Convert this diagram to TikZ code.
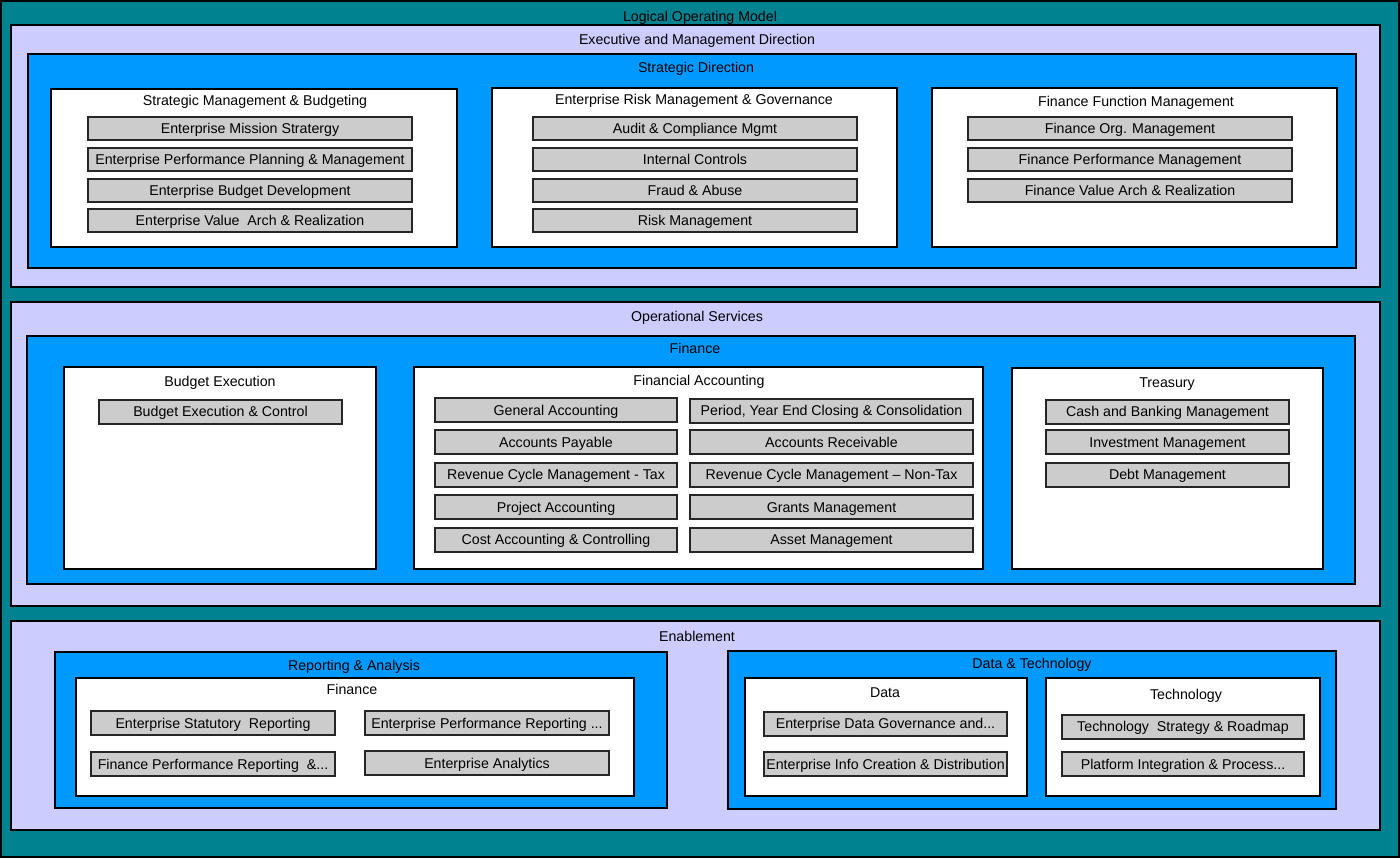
\documentclass[tikz,border=0pt]{standalone}
\usepackage{fontspec}
\setmainfont{Liberation Sans}
\definecolor{modelteal}{RGB}{0,130,144}
\definecolor{layerlav}{RGB}{204,204,255}
\definecolor{domainblue}{RGB}{0,153,255}
\definecolor{fngrey}{RGB}{204,204,204}
\tikzset{
  modelbox/.style={draw=black, line width=1.5pt, fill=modelteal, inner sep=0pt},
  layerbox/.style={draw=black, line width=1.5pt, fill=layerlav, inner sep=0pt},
  domainbox/.style={draw=black, line width=1.5pt, fill=domainblue, inner sep=0pt},
  areabox/.style={draw=black, line width=1.5pt, fill=white, inner sep=0pt},
  fnbox/.style={draw=black!85, line width=2pt, fill=fngrey, inner sep=0pt, minimum height=23, text height=10pt, text depth=0pt},
  ttl/.style={inner sep=0pt, text height=10pt, text depth=0pt},
  every node/.append style={font=\fontsize{14.2}{16}\selectfont}
}
\begin{document}
\begin{tikzpicture}[x=1pt,y=-1pt]
\useasboundingbox (0,0) rectangle (1400,858);

\node[modelbox, minimum width=1398, minimum height=856] (lom) at (700,429) {};
\node[ttl] at (700,17) {Logical Operating Model};

% Executive and Management Direction
\node[layerbox, minimum width=1369, minimum height=262] (emd) at (695.5,156) {};
\node[ttl] at (697,39.5) {Executive and Management Direction};
\node[domainbox, minimum width=1328, minimum height=214] (sd) at (692,161) {};
\node[ttl] at (696,68) {Strategic Direction};

\node[areabox, minimum width=406, minimum height=158] (smb) at (254,168) {};
\node[ttl] at (255,100.5) {Strategic Management \& Budgeting};
\node[fnbox, minimum width=324] (smb1) at (250,128.5) {Enterprise Mission Stratergy};
\node[fnbox, minimum width=324] (smb2) at (250,159.5) {Enterprise Performance Planning \& Management};
\node[fnbox, minimum width=324] (smb3) at (250,190.5) {Enterprise Budget Development};
\node[fnbox, minimum width=324] (smb4) at (250,221) {Enterprise Value\ \ Arch \& Realization};

\node[areabox, minimum width=405, minimum height=159] (ermg) at (694.5,167.5) {};
\node[ttl] at (694,100) {Enterprise Risk Management \& Governance};
\node[fnbox, minimum width=324] (ermg1) at (695,128.5) {Audit \& Compliance Mgmt};
\node[fnbox, minimum width=324] (ermg2) at (695,159.5) {Internal Controls};
\node[fnbox, minimum width=324] (ermg3) at (695,190.5) {Fraud \& Abuse};
\node[fnbox, minimum width=324] (ermg4) at (695,221) {Risk Management};

\node[areabox, minimum width=405, minimum height=159] (ffm) at (1134.5,167.5) {};
\node[ttl] at (1136,102) {Finance Function Management};
\node[fnbox, minimum width=324] (ffm1) at (1130,128.5) {Finance Org. Management};
\node[fnbox, minimum width=324] (ffm2) at (1130,159.5) {Finance Performance Management};
\node[fnbox, minimum width=324] (ffm3) at (1130,190.5) {Finance Value Arch \& Realization};

% Operational Services
\node[layerbox, minimum width=1369, minimum height=304] (ops) at (695.5,454) {};
\node[ttl] at (697,317) {Operational Services};
\node[domainbox, minimum width=1328, minimum height=248] (fin) at (691,460) {};
\node[ttl] at (695,348.5) {Finance};

\node[areabox, minimum width=312, minimum height=202] (be) at (220,468) {};
\node[ttl] at (220,382) {Budget Execution};
\node[fnbox, minimum width=243, minimum height=24] (be1) at (220.5,412) {Budget Execution \& Control};

\node[areabox, minimum width=569, minimum height=202] (fa) at (698.5,468) {};
\node[ttl] at (699,381) {Financial Accounting};
\node[fnbox, minimum width=242, minimum height=24] (fa1) at (556,410) {General Accounting};
\node[fnbox, minimum width=242, minimum height=24] (fa2) at (556,442) {Accounts Payable};
\node[fnbox, minimum width=242, minimum height=24] (fa3) at (556,474.5) {Revenue Cycle Management - Tax};
\node[fnbox, minimum width=242, minimum height=24] (fa4) at (556,507) {Project Accounting};
\node[fnbox, minimum width=242, minimum height=24] (fa5) at (556,539.5) {Cost Accounting \& Controlling};
\node[fnbox, minimum width=283, minimum height=24] (fa6) at (831.5,410.5) {Period, Year End Closing \& Consolidation};
\node[fnbox, minimum width=283, minimum height=24] (fa7) at (831.5,442) {Accounts Receivable};
\node[fnbox, minimum width=283, minimum height=24] (fa8) at (831.5,474.5) {Revenue Cycle Management – Non-Tax};
\node[fnbox, minimum width=283, minimum height=24] (fa9) at (831.5,507) {Grants Management};
\node[fnbox, minimum width=283, minimum height=24] (fa10) at (831.5,539.5) {Asset Management};

\node[areabox, minimum width=311, minimum height=201] (tre) at (1167.5,468.5) {};
\node[ttl] at (1167,383) {Treasury};
\node[fnbox, minimum width=243, minimum height=24] (tre1) at (1167.5,412) {Cash and Banking Management};
\node[fnbox, minimum width=243, minimum height=24] (tre2) at (1167.5,442) {Investment Management};
\node[fnbox, minimum width=243, minimum height=24] (tre3) at (1167.5,474.5) {Debt Management};

% Enablement
\node[layerbox, minimum width=1369, minimum height=209] (enb) at (695.5,725.5) {};
\node[ttl] at (697,636) {Enablement};

\node[domainbox, minimum width=612, minimum height=156] (ra) at (361,730) {};
\node[ttl] at (354,665) {Reporting \& Analysis};
\node[areabox, minimum width=558, minimum height=118] (raf) at (355,737) {};
\node[ttl] at (352,689) {Finance};
\node[fnbox, minimum width=244, minimum height=24] (raf1) at (213,723) {Enterprise Statutory\ \ Reporting};
\node[fnbox, minimum width=244, minimum height=24] (raf2) at (213,764) {Finance Performance Reporting\ \ \&...};
\node[fnbox, minimum width=244, minimum height=24] (raf3) at (487,723) {Enterprise Performance Reporting ...};
\node[fnbox, minimum width=244, minimum height=24] (raf4) at (487,763) {Enterprise Analytics};

\node[domainbox, minimum width=608, minimum height=158] (dt) at (1032,730) {};
\node[ttl] at (1032,663) {Data \& Technology};
\node[areabox, minimum width=282, minimum height=118] (dat) at (886,737) {};
\node[ttl] at (885,692) {Data};
\node[fnbox, minimum width=243, minimum height=24] (dat1) at (885.5,723.5) {Enterprise Data Governance and...};
\node[fnbox, minimum width=243, minimum height=24] (dat2) at (885.5,764) {Enterprise Info Creation \& Distribution};
\node[areabox, minimum width=274, minimum height=118] (tec) at (1183,737) {};
\node[ttl] at (1186,694) {Technology};
\node[fnbox, minimum width=242, minimum height=24] (tec1) at (1183,726.5) {Technology\ \ Strategy \& Roadmap};
\node[fnbox, minimum width=242, minimum height=24] (tec2) at (1183,764) {Platform Integration \& Process...};

\end{tikzpicture}
\end{document}
